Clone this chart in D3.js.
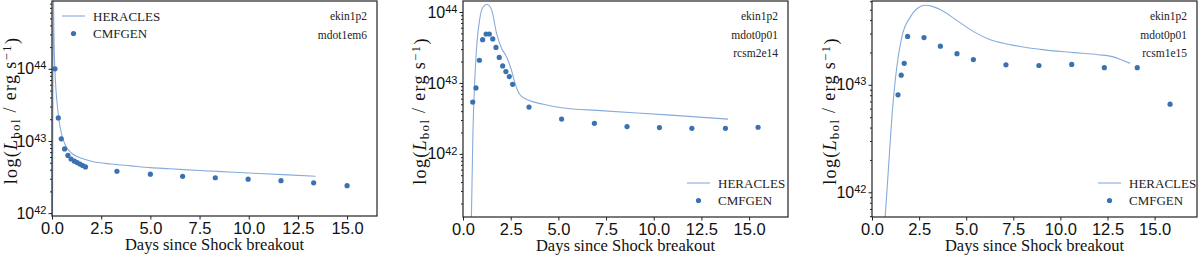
<!DOCTYPE html>
<html>
<head>
<meta charset="utf-8">
<script src="https://cdn.jsdelivr.net/npm/d3@7"></script>
<style>
  body { margin: 0; background: #fff; }
  svg { display: block; font-family: "Liberation Serif", "DejaVu Serif", serif; }
  .axis path, .axis line { stroke: #222; }
  .axis text { fill: #111; }
</style>
</head>
<body>
<svg id="chart" width="1200" height="255"></svg>
<script>
// ---- data (time in days, luminosity as log10 L) ----
const xTicks = [0, 2.5, 5, 7.5, 10, 12.5, 15];

// panel 1 : ekin1p2 / mdot1em6
const p1HeraclesT = [0.02, 0.045, 0.07, 0.09, 0.12, 0.17, 0.25, 0.35, 0.5, 0.7, 1.0, 1.5, 2.0, 3.0, 4.0, 5.0, 6.0, 7.5, 9.0, 10.5, 12.0, 13.4];
const p1HeraclesL = [41.5, 43.5, 45.2, 44.6, 44.2, 43.85, 43.55, 43.3, 43.08, 42.93, 42.83, 42.76, 42.72, 42.68, 42.655, 42.63, 42.615, 42.59, 42.57, 42.55, 42.53, 42.51];
const p1CmfgenT = [0.15, 0.32, 0.47, 0.64, 0.81, 0.97, 1.14, 1.28, 1.42, 1.56, 1.70, 3.30, 5.0, 6.64, 8.3, 9.97, 11.64, 13.3, 15.0];
const p1CmfgenL = [44.0, 43.32, 43.03, 42.89, 42.80, 42.75, 42.72, 42.70, 42.68, 42.66, 42.64, 42.58, 42.54, 42.51, 42.49, 42.47, 42.45, 42.42, 42.38];

// panel 2 : ekin1p2 / mdot0p01 / rcsm2e14
const p2HeraclesT = [0.44, 0.52, 0.61, 0.73, 0.87, 1.05, 1.26, 1.5, 1.76, 2.02, 2.28, 2.54, 2.72, 2.85, 3.0, 3.25, 3.6, 4.2, 5.17, 7.2, 10.7, 13.9];
const p2HeraclesL = [41.1, 42.29, 43.0, 43.56, 43.89, 44.07, 44.11, 44.03, 43.70, 43.49, 43.37, 43.18, 43.0, 42.9, 42.83, 42.78, 42.74, 42.70, 42.65, 42.61, 42.55, 42.49];
const p2CmfgenT = [0.51, 0.68, 0.86, 1.03, 1.21, 1.38, 1.56, 1.73, 1.90, 2.08, 2.25, 2.43, 2.6, 3.46, 5.17, 6.89, 8.6, 10.3, 12.0, 13.76, 15.47];
const p2CmfgenL = [42.73, 42.93, 43.32, 43.61, 43.69, 43.69, 43.62, 43.50, 43.36, 43.24, 43.16, 43.09, 42.98, 42.66, 42.49, 42.43, 42.385, 42.37, 42.36, 42.36, 42.375];

// panel 3 : ekin1p2 / mdot0p01 / rcsm1e15
const p3HeraclesT = [0.7, 0.88, 1.06, 1.32, 1.59, 2.03, 2.4, 2.83, 3.2, 3.62, 4.5, 5.39, 6.28, 7.16, 8.93, 10.7, 12.0, 12.8, 13.26, 13.7];
const p3HeraclesL = [41.77, 42.24, 42.71, 43.17, 43.45, 43.63, 43.71, 43.74, 43.73, 43.70, 43.60, 43.495, 43.42, 43.38, 43.33, 43.30, 43.28, 43.26, 43.23, 43.20];
const p3CmfgenT = [1.38, 1.55, 1.71, 1.89, 2.76, 3.63, 4.51, 5.38, 7.11, 8.86, 10.6, 12.33, 14.08, 15.82];
const p3CmfgenL = [42.907, 43.09, 43.20, 43.45, 43.44, 43.36, 43.29, 43.235, 43.186, 43.18, 43.19, 43.16, 43.16, 42.82];

const notes1 = ["ekin1p2", "mdot1em6"];
const notes2 = ["ekin1p2", "mdot0p01", "rcsm2e14"];
const notes3 = ["ekin1p2", "mdot0p01", "rcsm1e15"];

const lineColor = "#86acdb";
const dotColor = "#3a72b1";

const svg = d3.select("#chart");

function drawPanel(cfg, idx) {
  const w = cfg.right - cfg.left;
  const h = cfg.bottom - cfg.top;

  const x = d3.scaleLinear().domain([0, cfg.xMax]).range([0, w]);
  const y = d3.scaleLog().domain(cfg.yDomain.map(v => Math.pow(10, v))).range([h, 0]);

  const g = svg.append("g").attr("transform", `translate(${cfg.left},${cfg.top})`);

  g.append("clipPath").attr("id", "clip" + idx)
    .append("rect").attr("width", w).attr("height", h);

  // x axis
  g.append("g").attr("class", "axis")
    .attr("transform", `translate(0,${h})`)
    .call(d3.axisBottom(x).tickValues(xTicks).tickSize(3.5).tickPadding(3).tickFormat(d3.format(".1f")))
    .call(a => a.select(".domain").remove())
    .selectAll("text").style("font-size", "16.5px");

  // y minor ticks
  const lo = Math.floor(cfg.yDomain[0]), hi = Math.ceil(cfg.yDomain[1]);
  const minor = [];
  for (let d = lo; d <= hi; d++) {
    for (let k = 2; k <= 9; k++) {
      const v = k * Math.pow(10, d);
      if (v > y.domain()[0] && v < y.domain()[1]) minor.push(v);
    }
  }
  g.append("g").attr("class", "axis")
    .call(d3.axisLeft(y).tickValues(minor).tickSize(2).tickFormat(""))
    .call(a => a.select(".domain").remove());

  // y major ticks with 10^n labels
  const major = cfg.yTicks.map(e => Math.pow(10, e));
  const yAx = g.append("g").attr("class", "axis")
    .call(d3.axisLeft(y).tickValues(major).tickSize(3.5).tickPadding(2).tickFormat(""))
    .call(a => a.select(".domain").remove());
  yAx.selectAll(".tick text").each(function(d) {
    const t = d3.select(this).style("font-size", "16px");
    t.append("tspan").text("10");
    t.append("tspan").attr("dy", "-0.45em").style("font-size", "11px").text(Math.round(Math.log10(d)));
  });

  // curves
  const plot = g.append("g").attr("clip-path", `url(#clip${idx})`);
  const pts = cfg.hT.map((t, i) => [t, Math.pow(10, cfg.hL[i])]);
  plot.append("path").datum(pts)
    .attr("fill", "none").attr("stroke", lineColor).attr("stroke-width", 1.1)
    .attr("d", d3.line().x(d => x(d[0])).y(d => y(d[1])).curve(d3.curveMonotoneX));

  plot.selectAll("circle.dot").data(cfg.cT.map((t, i) => [t, Math.pow(10, cfg.cL[i])]))
    .join("circle").attr("class", "dot")
    .attr("cx", d => x(d[0])).attr("cy", d => y(d[1]))
    .attr("r", 2.6).attr("fill", dotColor);

  // frame
  g.append("rect").attr("width", w).attr("height", h)
    .attr("fill", "none").attr("stroke", "#222").attr("stroke-width", 1.2);

  // annotation text
  cfg.notes.forEach((n, i) => {
    g.append("text").attr("x", w - 10).attr("y", 19 + i * 18.5)
      .attr("text-anchor", "end").style("font-size", "11.5px").attr("fill", "#222").text(n);
  });

  // legend
  const lg = g.append("g").attr("transform", `translate(${cfg.legend[0]},${cfg.legend[1]})`);
  lg.append("line").attr("x1", 0).attr("x2", 23).attr("y1", 0).attr("y2", 0)
    .attr("stroke", lineColor).attr("stroke-width", 1.1);
  lg.append("text").attr("x", 31).attr("y", 4.5).style("font-size", "13px").attr("fill", "#222").text("HERACLES");
  lg.append("circle").attr("cx", 11.5).attr("cy", 17.5).attr("r", 2.6).attr("fill", dotColor);
  lg.append("text").attr("x", 31).attr("y", 22).style("font-size", "13px").attr("fill", "#222").text("CMFGEN");

  // axis labels
  g.append("text").attr("x", w / 2).attr("y", h + 34)
    .attr("text-anchor", "middle").style("font-size", "16.5px").attr("fill", "#111")
    .text("Days since Shock breakout");

  const yl = g.append("text")
    .attr("transform", `translate(${cfg.yLabelX},${h / 2 + 2}) rotate(-90)`)
    .attr("text-anchor", "middle").style("font-size", "18px").style("letter-spacing", "1.3px").attr("fill", "#111");
  yl.append("tspan").text("log(");
  yl.append("tspan").style("font-style", "italic").text("L");
  yl.append("tspan").attr("dy", "0.25em").style("font-size", "13px").text("bol");
  yl.append("tspan").attr("dy", "-0.25em").text(" / erg\u2009s");
  yl.append("tspan").attr("dy", "-0.4em").style("font-size", "13px").text("\u22121");
  yl.append("tspan").attr("dy", "0.4em").text(")");
}

const panels = [
  { left: 52, right: 377, top: 1, bottom: 216, xMax: 16.52, yDomain: [41.96, 44.94], yTicks: [42, 43, 44],
    hT: p1HeraclesT, hL: p1HeraclesL, cT: p1CmfgenT, cL: p1CmfgenL, notes: notes1, legend: [10, 15], yLabelX: -35 },
  { left: 463, right: 788, top: 1, bottom: 217, xMax: 17.04, yDomain: [41.11, 44.155], yTicks: [42, 43, 44],
    hT: p2HeraclesT, hL: p2HeraclesL, cT: p2CmfgenT, cL: p2CmfgenL, notes: notes2, legend: [224, 182], yLabelX: -37 },
  { left: 872, right: 1197, top: 1, bottom: 217, xMax: 17.25, yDomain: [41.77, 43.78], yTicks: [42, 43],
    hT: p3HeraclesT, hL: p3HeraclesL, cT: p3CmfgenT, cL: p3CmfgenL, notes: notes3, legend: [226, 182], yLabelX: -36 }
];

panels.forEach((p, i) => drawPanel(p, i));
</script>
</body>
</html>
